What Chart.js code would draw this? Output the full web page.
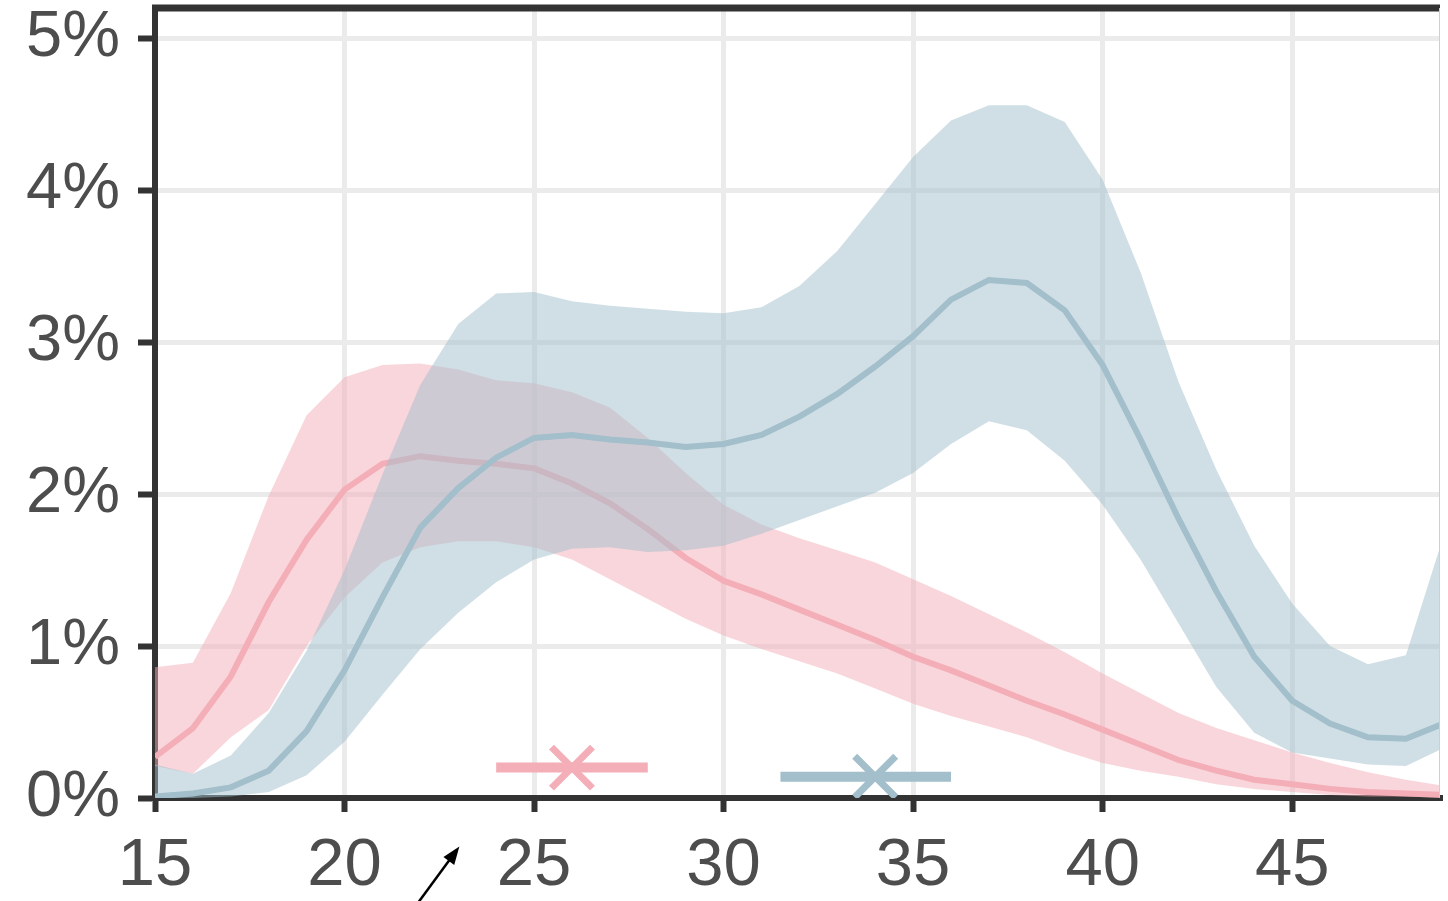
<!doctype html>
<html lang="en">

<head>
    <meta charset="utf-8">
    <title>Age profile</title>
    <script src="https://cdn.jsdelivr.net/npm/chart.js"></script>
    <style>
        body { margin: 0; background: #ffffff; }
        #wrap { width: 1448px; height: 901px; }
    </style>
</head>

<body>
    <div id="wrap">
        <canvas id="chart"></canvas>
    </div>

<script>
    // ages on the x axis
    const ages = [15, 16, 17, 18, 19, 20, 21, 22, 23, 24, 25, 26, 27, 28, 29, 30, 31, 32, 33, 34,
        35, 36, 37, 38, 39, 40, 41, 42, 43, 44, 45, 46, 47, 48, 49];

    // pink group (%): mean and band
    const pinkMean = [0.27, 0.46, 0.80, 1.29, 1.70, 2.03, 2.20, 2.25, 2.22, 2.20, 2.17, 2.07, 1.94, 1.77, 1.58,
        1.43, 1.34, 1.24, 1.14, 1.04, 0.93, 0.84, 0.74, 0.64, 0.55, 0.45, 0.35, 0.25, 0.18, 0.12,
        0.09, 0.06, 0.04, 0.03, 0.02];
    const pinkHigh = [0.86, 0.89, 1.35, 1.99, 2.52, 2.77, 2.85, 2.86, 2.82, 2.75, 2.73, 2.67, 2.57, 2.37, 2.14,
        1.93, 1.80, 1.71, 1.63, 1.55, 1.44, 1.33, 1.21, 1.09, 0.96, 0.82, 0.69, 0.56, 0.46, 0.38,
        0.30, 0.23, 0.17, 0.12, 0.08];
    const pinkLow = [0.21, 0.16, 0.40, 0.58, 1.00, 1.32, 1.55, 1.65, 1.69, 1.69, 1.65, 1.57, 1.44, 1.31, 1.18,
        1.07, 0.98, 0.90, 0.82, 0.72, 0.62, 0.54, 0.47, 0.40, 0.31, 0.23, 0.18, 0.14, 0.09, 0.06,
        0.04, 0.02, 0.01, 0.01, 0.00];

    // blue group (%): mean and band
    const blueMean = [0.01, 0.03, 0.07, 0.18, 0.44, 0.84, 1.32, 1.78, 2.04, 2.24, 2.37, 2.39, 2.36, 2.34, 2.31,
        2.33, 2.39, 2.51, 2.66, 2.84, 3.04, 3.28, 3.41, 3.39, 3.21, 2.85, 2.36, 1.84, 1.36, 0.93,
        0.64, 0.49, 0.40, 0.39, 0.49];
    const blueHigh = [0.22, 0.16, 0.28, 0.56, 0.97, 1.50, 2.13, 2.72, 3.12, 3.32, 3.33, 3.27, 3.24, 3.22, 3.20,
        3.19, 3.23, 3.37, 3.60, 3.91, 4.22, 4.46, 4.56, 4.56, 4.45, 4.07, 3.46, 2.74, 2.16, 1.66,
        1.28, 1.00, 0.88, 0.94, 1.73];
    const blueLow = [0.00, 0.00, 0.01, 0.04, 0.15, 0.37, 0.68, 0.98, 1.22, 1.42, 1.57, 1.64, 1.65, 1.62, 1.63,
        1.66, 1.74, 1.83, 1.92, 2.01, 2.14, 2.33, 2.48, 2.42, 2.22, 1.93, 1.57, 1.15, 0.73, 0.43,
        0.30, 0.26, 0.22, 0.21, 0.33];

    // summary marks: centre, range, height
    const pinkMark = { x: 26, from: 24, to: 28, y: 0.2 };
    const blueMark = { x: 34, from: 31.5, to: 36, y: 0.14 };

    // annotation arrow under the axis (data units)
    const arrowFrom = { x: 21.85, y: -0.72 };
    const arrowTo = { x: 23.03, y: -0.32 };

    const xTicks = [15, 20, 25, 30, 35, 40, 45];
    const yTicks = [0, 1, 2, 3, 4, 5];

    const pink = "rgb(244, 174, 184)";
    const pinkBand = "rgba(244, 174, 184, 0.5)";
    const blue = "rgb(162, 191, 203)";
    const blueBand = "rgba(162, 191, 203, 0.5)";
    const axisColor = "#333333";
    const labelColor = "#4d4d4d";

    function points(values) {
        return ages.map((a, i) => ({ x: a, y: values[i] }));
    }

    function band(label, values, color, fill, order) {
        return {
            label: label,
            data: points(values),
            borderWidth: 0,
            borderColor: "transparent",
            backgroundColor: color,
            pointRadius: 0,
            tension: 0,
            fill: fill,
            order: order
        };
    }

    function meanLine(label, values, color, order) {
        return {
            label: label,
            data: points(values),
            borderColor: color,
            borderWidth: 6,
            pointRadius: 0,
            tension: 0,
            fill: false,
            order: order
        };
    }

    function rangeBar(mark, color, order) {
        return {
            data: [{ x: mark.from, y: mark.y }, { x: mark.to, y: mark.y }],
            borderColor: color,
            borderWidth: 10,
            pointRadius: 0,
            fill: false,
            order: order
        };
    }

    function crossMark(mark, color, order) {
        return {
            data: [{ x: mark.x, y: mark.y }],
            showLine: false,
            pointStyle: "crossRot",
            pointRadius: 29,
            pointBorderWidth: 7,
            pointBorderColor: color,
            borderColor: color,
            backgroundColor: color,
            fill: false,
            order: order
        };
    }

    // top frame line, right edge and the arrow
    const framePlugin = {
        id: "frame",
        afterDraw(chart) {
            const { ctx, chartArea, scales } = chart;
            ctx.save();
            ctx.strokeStyle = axisColor;
            ctx.lineWidth = 7;
            ctx.beginPath();
            ctx.moveTo(chartArea.left - 3, chartArea.top);
            ctx.lineTo(chartArea.right, chartArea.top);
            ctx.stroke();

            ctx.strokeStyle = "#cfcfcf";
            ctx.lineWidth = 1;
            ctx.beginPath();
            ctx.moveTo(chartArea.right - 0.5, chartArea.top);
            ctx.lineTo(chartArea.right - 0.5, chartArea.bottom);
            ctx.stroke();

            const x1 = scales.x.getPixelForValue(arrowFrom.x);
            const y1 = scales.y.getPixelForValue(arrowFrom.y);
            const x2 = scales.x.getPixelForValue(arrowTo.x);
            const y2 = scales.y.getPixelForValue(arrowTo.y);
            const ang = Math.atan2(y2 - y1, x2 - x1);
            const head = 19;
            ctx.strokeStyle = "#000000";
            ctx.fillStyle = "#000000";
            ctx.lineWidth = 2.5;
            ctx.beginPath();
            ctx.moveTo(x1, y1);
            ctx.lineTo(x2 - Math.cos(ang) * head * 0.8, y2 - Math.sin(ang) * head * 0.8);
            ctx.stroke();
            ctx.beginPath();
            ctx.moveTo(x2, y2);
            ctx.lineTo(x2 - head * Math.cos(ang - 0.36), y2 - head * Math.sin(ang - 0.36));
            ctx.lineTo(x2 - head * Math.cos(ang + 0.36), y2 - head * Math.sin(ang + 0.36));
            ctx.closePath();
            ctx.fill();
            ctx.restore();
        }
    };

    function noPadding(scale) {
        scale.paddingTop = 0;
        scale.paddingBottom = 0;
        scale.paddingLeft = 0;
        scale.paddingRight = 0;
    }

    document.addEventListener("DOMContentLoaded", () => {
        const ctx = document.getElementById("chart").getContext("2d");

        // higher order is painted first
        const datasets = [
            band("pink low", pinkLow, "transparent", false, 10),
            band("pink high", pinkHigh, pinkBand, "-1", 9),
            meanLine("pink mean", pinkMean, pink, 8),
            band("blue low", blueLow, "transparent", false, 7),
            band("blue high", blueHigh, blueBand, "-1", 6),
            meanLine("blue mean", blueMean, blue, 5),
            rangeBar(pinkMark, pink, 4),
            rangeBar(blueMark, blue, 3),
            crossMark(pinkMark, pink, 2),
            crossMark(blueMark, blue, 1)
        ];

        new Chart(ctx, {
            type: "line",
            data: { datasets: datasets },
            plugins: [framePlugin],
            options: {
                responsive: true,
                maintainAspectRatio: false,
                animation: false,
                devicePixelRatio: 1,
                layout: { autoPadding: false, padding: { top: 8, right: 8, left: 0, bottom: 0 } },
                plugins: {
                    legend: { display: false },
                    tooltip: { enabled: false }
                },
                scales: {
                    x: {
                        type: "linear",
                        min: 15,
                        max: 48.9,
                        afterBuildTicks: (scale) => { scale.ticks = xTicks.map(v => ({ value: v })); },
                        afterFit: (scale) => { scale.height = 103; noPadding(scale); },
                        grid: {
                            color: "#ebebeb",
                            lineWidth: 5,
                            tickLength: 14,
                            tickColor: axisColor,
                            tickWidth: 6
                        },
                        border: { display: true, color: axisColor, width: 6 },
                        ticks: {
                            color: labelColor,
                            padding: 14,
                            maxRotation: 0,
                            font: { family: "'Liberation Sans', Arial, sans-serif", size: 67 }
                        }
                    },
                    y: {
                        min: 0,
                        max: 5.2,
                        afterBuildTicks: (scale) => { scale.ticks = yTicks.map(v => ({ value: v })); },
                        afterFit: (scale) => { scale.width = 155; noPadding(scale); },
                        grid: {
                            color: "#ebebeb",
                            lineWidth: 5,
                            tickLength: 17,
                            tickColor: axisColor,
                            tickWidth: 6
                        },
                        border: { display: true, color: axisColor, width: 6 },
                        ticks: {
                            color: labelColor,
                            padding: 18,
                            callback: (v) => v + "%",
                            font: { family: "'Liberation Sans', Arial, sans-serif", size: 65 }
                        }
                    }
                }
            }
        });
    });
</script>
</body>

</html>
